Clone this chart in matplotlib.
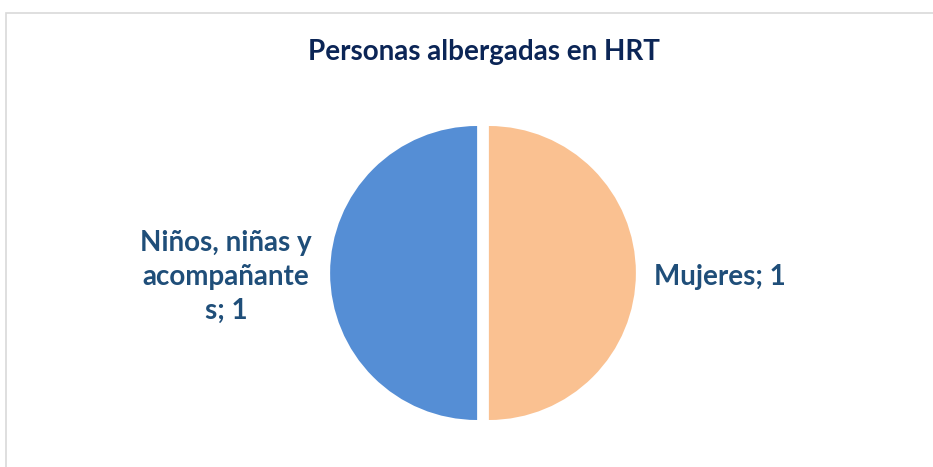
import matplotlib
matplotlib.use("Agg")
import matplotlib.pyplot as plt
from matplotlib.patches import Rectangle

title = "Personas albergadas en HRT"
categories = ["Mujeres", "Niños, niñas y\nacompañante\ns"]
values = [1, 1]
colors = ["#FAC191", "#558ED5"]

W, H = 933, 467
fig = plt.figure(figsize=(W / 100, H / 100), dpi=100)
fig.patch.set_facecolor("white")

# chart border
fig.patches.append(Rectangle((5.5 / W, -0.1), 1.2, 1 - 12.5 / H + 0.1,
                             transform=fig.transFigure, fill=False,
                             edgecolor="#D9D9D9", linewidth=1.2))

cx, cy, r = 483, 273, 147
ax = fig.add_axes([0, 0, 1, 1])
labels = [f"{c}; {v}" for c, v in zip(categories, values)]
wedges, texts = ax.pie(values, colors=colors, startangle=90, counterclock=False,
                       explode=[0.04, 0.04], labels=labels, labeldistance=1.125,
                       textprops=dict(fontsize=20, fontweight="bold", color="#1F4E79",
                                      family="Lato", multialignment="center",
                                      linespacing=1.36),
                       wedgeprops=dict(linewidth=0))
for t in texts:
    x, y = t.get_position()
    t.set_position((x, y - 4 / r))
ax.set_xlim(-cx / r, (W - cx) / r)
ax.set_ylim(-(H - cy) / r, cy / r)
ax.set_aspect("auto")
ax.axis("off")

fig.text(484 / W, 1 - 52 / H, title, ha="center", va="center", fontsize=20,
         fontweight="bold", color="#0B2556", family="Lato")

fig.savefig("out.png", dpi=100, facecolor="white")
